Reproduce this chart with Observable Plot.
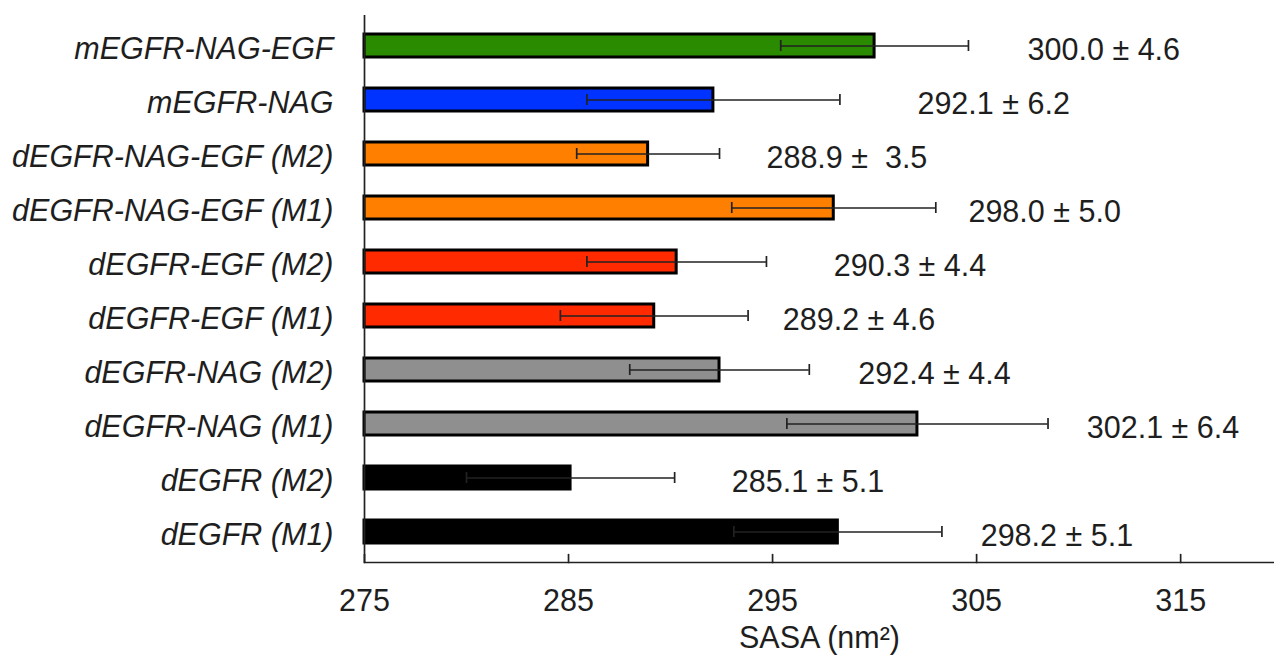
<!DOCTYPE html>
<html><head><meta charset="utf-8">
<script src="https://cdn.jsdelivr.net/npm/d3@7"></script>
<script src="https://cdn.jsdelivr.net/npm/@observablehq/plot@0.6"></script>
<style>
html,body{margin:0;padding:0;background:#fff;}
#chart svg{display:block;}
</style>
</head><body><div id="chart"></div>
<script>
// Systems, top to bottom
const systems = ["mEGFR-NAG-EGF","mEGFR-NAG","dEGFR-NAG-EGF (M2)","dEGFR-NAG-EGF (M1)","dEGFR-EGF (M2)","dEGFR-EGF (M1)","dEGFR-NAG (M2)","dEGFR-NAG (M1)","dEGFR (M2)","dEGFR (M1)"];
const means = [300.0, 292.1, 288.9, 298.0, 290.3, 289.2, 292.4, 302.1, 285.1, 298.2];
const sds = [4.6, 6.2, 3.5, 5.0, 4.4, 4.6, 4.4, 6.4, 5.1, 5.1];
const groups = ["mEGFR-NAG-EGF","mEGFR-NAG","dEGFR-NAG-EGF","dEGFR-NAG-EGF","dEGFR-EGF","dEGFR-EGF","dEGFR-NAG","dEGFR-NAG","dEGFR","dEGFR"];
const groupNames = ["mEGFR-NAG-EGF","mEGFR-NAG","dEGFR-NAG-EGF","dEGFR-EGF","dEGFR-NAG","dEGFR"];
const groupColors = ["#2a8a00","#0033ff","#ff8000","#ff2a00","#8f8f8f","#000000"];
const valueLabels = ["300.0 ± 4.6","292.1 ± 6.2","288.9 ±  3.5","298.0 ± 5.0","290.3 ± 4.4","289.2 ± 4.6","292.4 ± 4.4","302.1 ± 6.4","285.1 ± 5.1","298.2 ± 5.1"];
// where each annotation starts, in SASA units
const labelAt = [307.5, 302.1, 294.7, 304.6, 298.0, 295.5, 299.2, 310.4, 293.0, 305.2];
const xTicks = [275, 285, 295, 305, 315];
const xLabel = "SASA (nm²)";

const data = systems.map((s, i) => ({system: s, mean: means[i], sd: sds[i], group: groups[i], text: valueLabels[i], at: labelAt[i]}));
const base = xTicks[0];
const font = "'Liberation Sans', Arial, Helvetica, sans-serif";
const fs = 30.5;

const tickShape = {draw(ctx, l) { ctx.moveTo(0, 0); ctx.lineTo(0, -l); }};

const chart = Plot.plot({
  width: 1274,
  height: 659,
  marginLeft: 364,
  marginRight: 0,
  marginTop: 15,
  marginBottom: 97,
  style: {fontFamily: font, fontSize: fs + "px", color: "#1e1e1e", background: "#fff", overflow: "visible"},
  x: {domain: [275, 319.6]},
  y: {domain: systems, paddingInner: 0.58, paddingOuter: 0.29},
  color: {domain: groupNames, range: groupColors},
  marks: [
    Plot.barX(data, {y: "system", x1: base, x2: "mean", fill: "group", stroke: "#000", strokeWidth: 3}),
    Plot.ruleY(data, {y: "system", x1: d => d.mean - d.sd, x2: d => d.mean + d.sd, stroke: "#222", strokeWidth: 1.7}),
    Plot.tickX(data, {y: "system", x: d => d.mean - d.sd, stroke: "#222", strokeWidth: 1.7, insetTop: 6, insetBottom: 6}),
    Plot.tickX(data, {y: "system", x: d => d.mean + d.sd, stroke: "#222", strokeWidth: 1.7, insetTop: 6, insetBottom: 6}),
    Plot.text(data, {x: "at", y: "system", text: "text", textAnchor: "start", dy: 4, fontSize: fs, fill: "#1e1e1e"}),
    Plot.ruleX([base], {stroke: "#222", strokeWidth: 1.7}),
    Plot.frame({anchor: "bottom", stroke: "#222", strokeWidth: 1.7}),
    Plot.vector(xTicks, {x: d => d, frameAnchor: "bottom", anchor: "start", length: 8, rotate: 0, shape: tickShape, stroke: "#222", strokeWidth: 1.7}),
    Plot.axisX({ticks: xTicks, tickSize: 0, tickPadding: 27, label: null, fontSize: fs, tickFormat: d => String(d)}),
    Plot.axisY({tickSize: 0, tickPadding: 31, label: null, fontSize: fs, fontStyle: "italic", dy: 3}),
    Plot.text([xLabel], {frameAnchor: "bottom", dy: 85, text: d => d, fontSize: fs, fill: "#1e1e1e"})
  ]
});
document.getElementById("chart").appendChild(chart);
</script>
</body></html>
